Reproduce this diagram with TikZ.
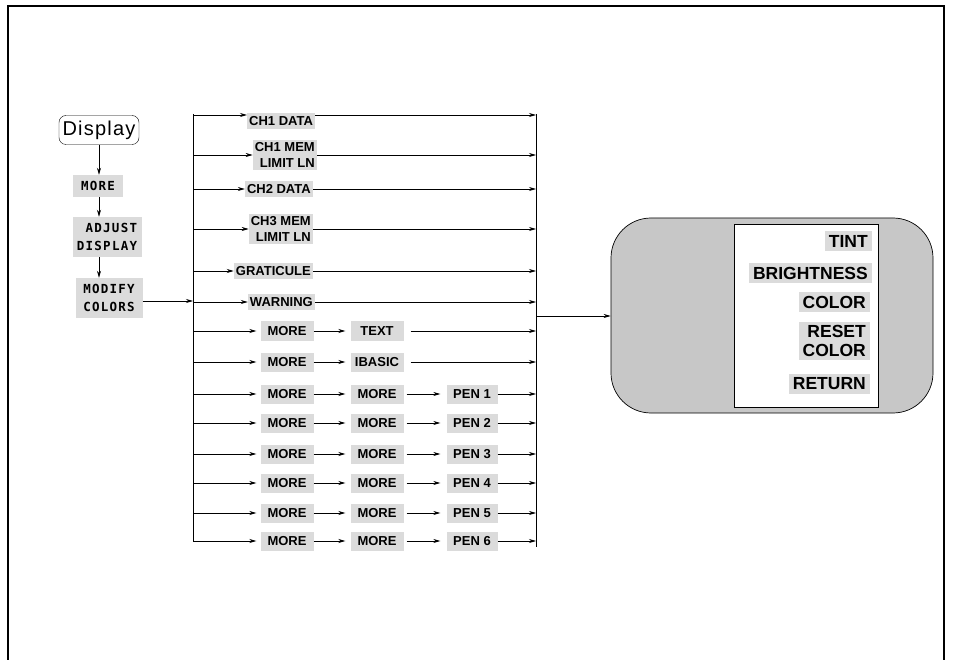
\documentclass[tikz,border=0pt]{standalone}
\usepackage{fontspec}
\usetikzlibrary{arrows.meta,calc}
\newfontfamily\hv{Liberation Sans}
\newfontfamily\hvd[LetterSpace=6]{Liberation Sans}
\newfontfamily\dm[LetterSpace=10]{DejaVu Sans Mono}
\definecolor{shade}{gray}{0.86}
\definecolor{panelgray}{gray}{0.78}
\tikzset{
  arr/.style={-{Stealth[length=7pt,width=4pt]}, line width=0.7pt},
  ln/.style={line width=0.7pt},
  key/.style={fill=shade, font=\hv\bfseries\fontsize{13}{15.5}\selectfont, inner xsep=2pt, inner ysep=3pt, align=right},
  lcd/.style={fill=shade, font=\dm\bfseries\fontsize{12.5}{18}\selectfont, inner xsep=2pt, inner ysep=3pt, align=right},
  colA/.style={key, minimum width=53pt, minimum height=19pt},
  colB/.style={key, minimum width=51pt, minimum height=19pt},
  menu/.style={fill=shade, font=\hv\bfseries\fontsize{17.5}{18.5}\selectfont, inner xsep=4pt, inner ysep=4pt, align=right, anchor=east},
}
\begin{document}
\begin{tikzpicture}[x=1pt,y=-1pt]
\useasboundingbox (0,0) rectangle (953,660);
% frame (open at the bottom)
\draw[line width=2.2pt] (8,662) -- (8,6) -- (944,6) -- (944,662);

% left chain
\coordinate (ax) at (99,0);
\node[draw, rounded corners=7pt, font=\hvd\fontsize{20}{21}\selectfont, minimum width=80pt, minimum height=29pt, inner sep=2pt] (disp) at (99,130) {Display};
\node[lcd, minimum width=50pt, minimum height=22pt] (more0) at (98,186) {MORE};
\node[lcd, minimum width=69pt, minimum height=40pt] (adj) at (107,237) {ADJUST\\DISPLAY};
\node[lcd, minimum width=67pt, minimum height=40pt] (mod) at (109,298) {MODIFY\\COLORS};
\draw[arr] (disp.south -| ax) -- (more0.north -| ax);
\draw[arr] (more0.south -| ax) -- (adj.north -| ax);
\draw[arr] (adj.south -| ax) -- (mod.north -| ax);

% trunk and collector
\coordinate (ttop) at (193,114);
\coordinate (tbot) at (193,542);
\coordinate (rtop) at (536,114);
\coordinate (rbot) at (536,547);
\draw[ln] (ttop) -- (tbot);
\draw[ln] (rtop) -- (rbot);
\coordinate (tm) at (193,301);
\draw[arr] (mod.east |- tm) -- (tm);

% simple rows
\node[key, anchor=west] (ch1d) at (247,121) {CH1 DATA};
\coordinate (t1) at (193,115); \coordinate (r1) at (536,115);
\draw[arr] (t1) -- (t1 -| ch1d.west);
\draw[arr] (ch1d.east |- t1) -- (r1);

\node[key, anchor=east] (ch1m) at (317,155) {CH1 MEM\\LIMIT LN};
\coordinate (t2) at (193,155); \coordinate (r2) at (536,155);
\draw[arr] (t2) -- (ch1m.west);
\draw[arr] (ch1m.east) -- (r2);

\node[key, anchor=east] (ch2d) at (313,189) {CH2 DATA};
\coordinate (t3) at (193,189); \coordinate (r3) at (536,189);
\draw[arr] (t3) -- (ch2d.west);
\draw[arr] (ch2d.east) -- (r3);

\node[key, anchor=east] (ch3m) at (313,229) {CH3 MEM\\LIMIT LN};
\coordinate (t4) at (193,229); \coordinate (r4) at (536,229);
\draw[arr] (t4) -- (ch3m.west);
\draw[arr] (ch3m.east) -- (r4);

\node[key, anchor=east] (grat) at (313,271) {GRATICULE};
\coordinate (t5) at (193,271); \coordinate (r5) at (536,271);
\draw[arr] (t5) -- (grat.west);
\draw[arr] (grat.east) -- (r5);

\node[key, anchor=east] (warn) at (315,302) {WARNING};
\coordinate (t6) at (193,302); \coordinate (r6) at (536,302);
\draw[arr] (t6) -- (warn.west);
\draw[arr] (warn.east) -- (r6);

% MORE rows
\node[colA] (m7) at (287,331) {MORE};
\node[colA] (text) at (377,331) {TEXT};
\coordinate (t7) at (193,331); \coordinate (r7) at (536,331);
\draw[arr, shorten >=4pt] (t7) -- (m7.west);
\draw[arr, shorten >=5pt] (m7.east) -- (text.west);
\draw[arr, shorten <=7pt] (text.east) -- (r7);

\node[colA] (m8) at (287,362) {MORE};
\node[colA] (ibasic) at (377,362) {IBASIC};
\coordinate (t8) at (193,362); \coordinate (r8) at (536,362);
\draw[arr, shorten >=4pt] (t8) -- (m8.west);
\draw[arr, shorten >=5pt] (m8.east) -- (ibasic.west);
\draw[arr, shorten <=7pt] (ibasic.east) -- (r8);

\foreach \n/\yy in {1/394, 2/423, 3/454, 4/483, 5/513, 6/541}{
  \node[colA] (ma\n) at (287,\yy) {MORE};
  \node[colA] (mb\n) at (377,\yy) {MORE};
  \node[colB] (pen\n) at (472,\yy) {PEN \n};
  \coordinate (tp\n) at (193,\yy);
  \coordinate (rp\n) at (536,\yy);
  \draw[arr, shorten >=4pt] (tp\n) -- (ma\n.west);
  \draw[arr, shorten >=5pt] (ma\n.east) -- (mb\n.west);
  \draw[arr, shorten <=3pt, shorten >=6pt] (mb\n.east) -- (pen\n.west);
  \draw[arr] (pen\n.east) -- (rp\n);
}

% softkey panel
\node[draw, line width=0.7pt, fill=panelgray, rounded corners=40pt, minimum width=322pt, minimum height=195pt] (panel) at (772,315.5) {};
\node[draw, line width=0.7pt, fill=white, minimum width=144pt, minimum height=183pt] (keys) at (806,315.5) {};
\node[menu] (tint) at (872,241) {TINT};
\node[menu] (bright) at (872,273) {BRIGHTNESS};
\node[menu] (color) at (870,302) {COLOR};
\node[menu] (reset) at (870,341) {RESET\\COLOR};
\node[menu] (ret) at (870,384) {RETURN};
\coordinate (rm) at (536,316);
\draw[arr] (rm) -- (rm -| panel.west);
\end{tikzpicture}
\end{document}
